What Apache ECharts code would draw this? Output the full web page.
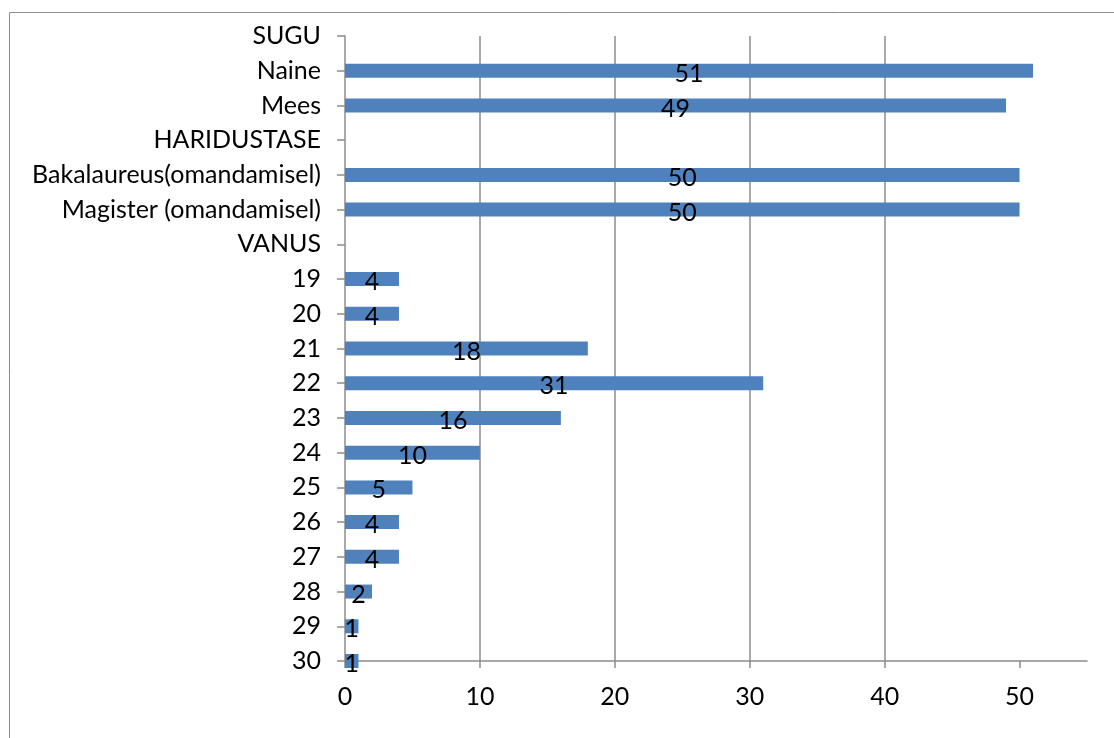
<!DOCTYPE html>
<html>
<head>
<meta charset="utf-8">
<script src="https://cdn.jsdelivr.net/npm/echarts@6/dist/echarts.min.js"></script>
<style>
  html, body { margin: 0; padding: 0; background: #fff; }
  #chart { width: 1114px; height: 738px; }
</style>
</head>
<body>
<div id="chart"></div>
<script>
// Categories listed top to bottom; section headers carry no value
const categories = [
  'SUGU', 'Naine', 'Mees',
  'HARIDUSTASE', 'Bakalaureus(omandamisel)', 'Magister (omandamisel)',
  'VANUS', '19', '20', '21', '22', '23', '24', '25', '26', '27', '28', '29', '30'
];
const counts = [
  null, 51, 49,
  null, 50, 50,
  null, 4, 4, 18, 31, 16, 10, 5, 4, 4, 2, 1, 1
];
const xTicks = [0, 10, 20, 30, 40, 50];

const FONT = 'Lato, "Open Sans", sans-serif';
const FONT_SIZE = 25;
const chart = echarts.init(document.getElementById('chart'), null, { renderer: 'canvas' });

chart.setOption({
  animation: false,
  backgroundColor: '#ffffff',
  graphic: [{
    type: 'rect',
    shape: { x: 9.5, y: 12.5, width: 1200, height: 800 },
    style: { fill: 'none', stroke: '#8c8c8c', lineWidth: 1 },
    silent: true,
    z: -1
  }],
  grid: { left: 345, right: 27, top: 36, bottom: 77, containLabel: false },
  xAxis: {
    type: 'value',
    min: 0,
    max: 55,
    interval: 10,
    axisLine: { show: true, lineStyle: { color: '#8c8c8c', width: 1.5 } },
    axisTick: { show: true, length: 7, customValues: xTicks, lineStyle: { color: '#8c8c8c', width: 1.5 } },
    splitLine: { show: true, showMinLine: false, showMaxLine: false, lineStyle: { color: '#8c8c8c', width: 1.5 } },
    axisLabel: {
      margin: 23,
      color: '#000',
      fontFamily: FONT,
      fontSize: FONT_SIZE,
      customValues: xTicks
    }
  },
  yAxis: {
    type: 'category',
    data: categories,
    inverse: true,
    boundaryGap: false,
    axisLine: { show: true, onZero: false, lineStyle: { color: '#8c8c8c', width: 1.5 } },
    axisTick: { show: true, alignWithLabel: true, length: 8, lineStyle: { color: '#8c8c8c', width: 1.5 } },
    splitLine: { show: false },
    axisLabel: {
      margin: 24,
      color: '#000',
      fontFamily: FONT,
      fontSize: FONT_SIZE,
      interval: 0
    }
  },
  series: [{
    type: 'bar',
    data: counts,
    barWidth: 14,
    itemStyle: { color: '#4f81bd' },
    label: {
      show: true,
      position: 'inside',
      offset: [0, 3],
      color: '#000',
      fontFamily: FONT,
      fontSize: FONT_SIZE,
      formatter: p => (p.value == null ? '' : String(p.value))
    }
  }]
});
</script>
</body>
</html>
